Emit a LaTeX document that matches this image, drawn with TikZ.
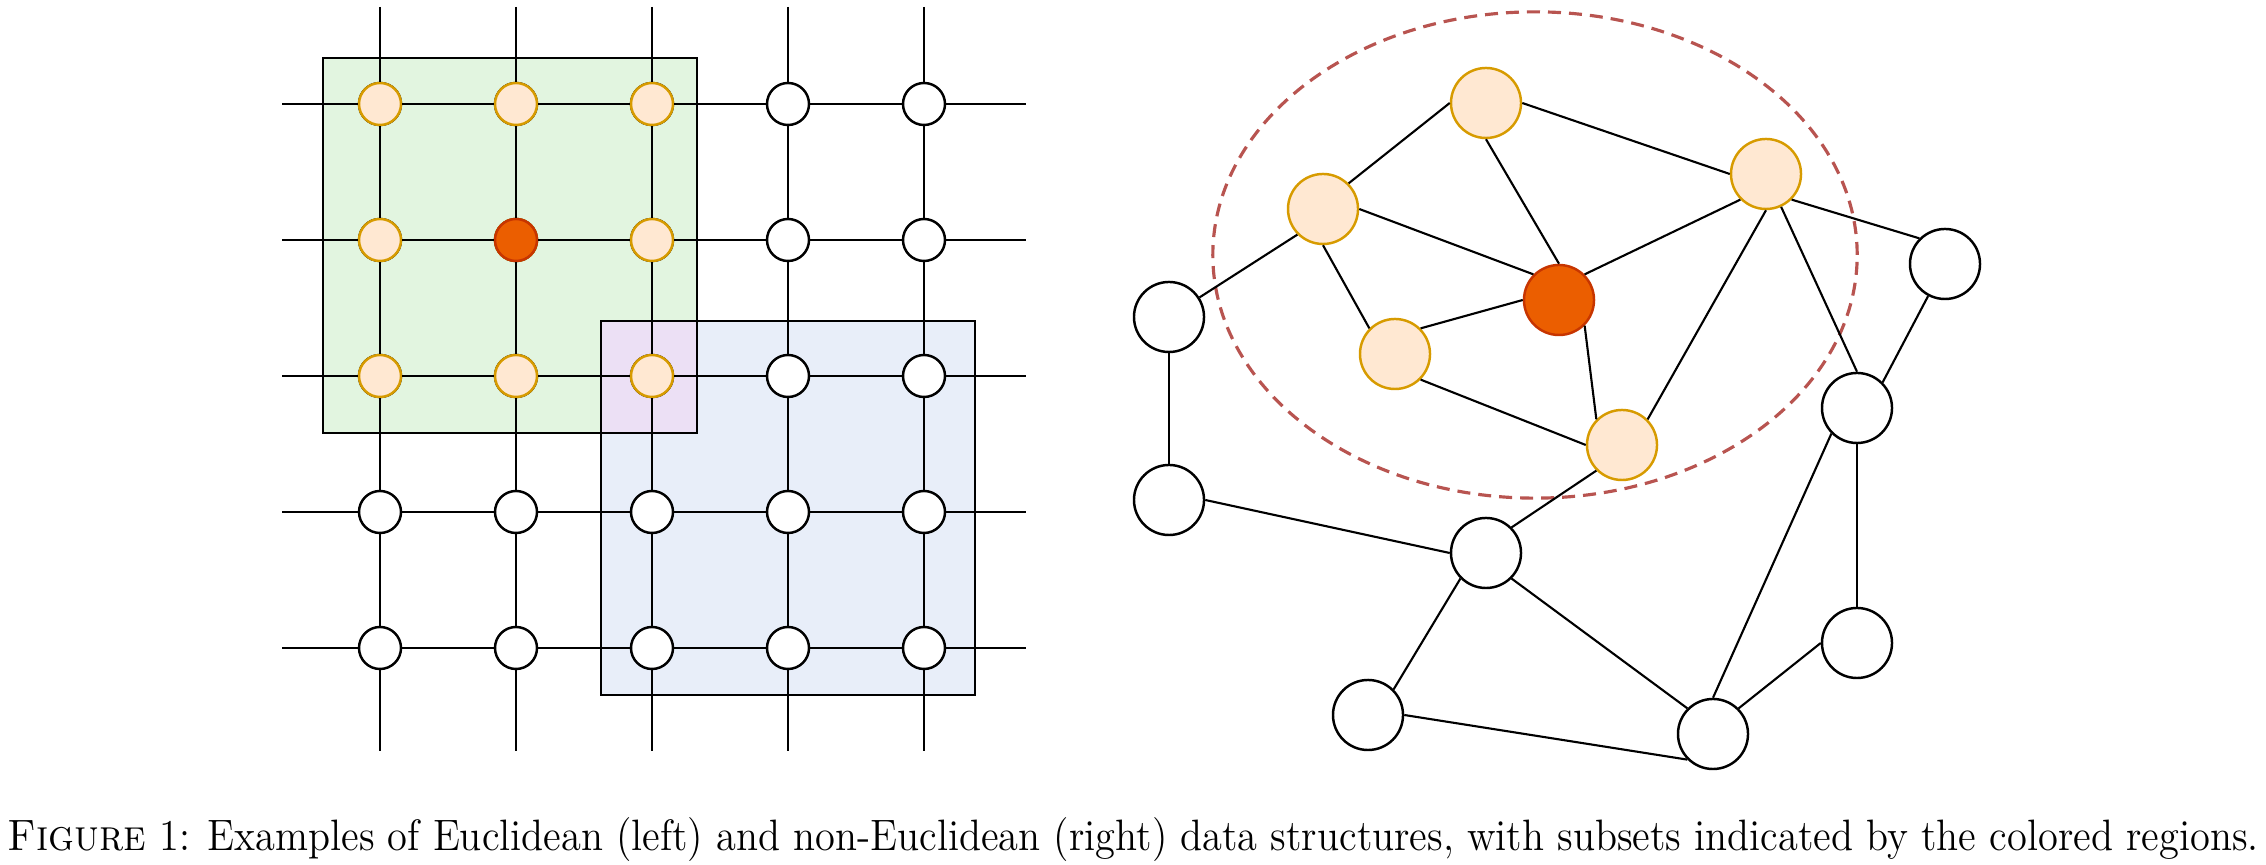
\documentclass[tikz,border=0pt]{standalone}
\usepackage{graphicx}
\definecolor{hoodfill}{HTML}{FFE8D2}
\definecolor{hooddraw}{HTML}{D79B00}
\definecolor{seedfill}{HTML}{EB5E00}
\definecolor{seeddraw}{HTML}{C73500}
\definecolor{greenbox}{HTML}{E2F5E0}
\definecolor{bluebox}{HTML}{E8EEF9}
\definecolor{bothbox}{HTML}{ECE0F5}
\definecolor{ringcol}{HTML}{B85450}
\tikzset{
  gridnode/.style={circle,draw,line width=0.7pt,fill=white,minimum size=0.42cm,inner sep=0pt},
  graphnode/.style={circle,draw,line width=0.7pt,fill=white,minimum size=0.70cm,inner sep=0pt},
  hood/.style={draw=hooddraw,fill=hoodfill},
  seed/.style={draw=seeddraw,fill=seedfill},
  link/.style={line width=0.6pt},
}
\begin{document}
\begin{tikzpicture}[x=0.01cm,y=-0.01cm]
    \useasboundingbox (0,0) rectangle (2266,865);

    % regions
    \fill [greenbox] (323,58) rectangle (697,433);
    \fill [bluebox] (601,321) rectangle (975,695);
    \fill [bothbox] (601,321) rectangle (697,433);
    \draw [line width=0.8pt] (323,58) rectangle (697,433);
    \draw [line width=0.8pt] (601,321) rectangle (975,695);

    % grid nodes
    \foreach \i in {1,...,5}
      \foreach \j in {1,...,5}
        \node [gridnode] (g\i\j) at ({380+(\i-1)*136},{104+(\j-1)*136}) {};
    \foreach \i in {1,2,3}
      \foreach \j in {1,2,3}
        \node [gridnode,hood] at (g\i\j) {};
    \node [gridnode,seed] at (g22) {};

    % grid lines
    \foreach \k in {1,...,5} {
      \coordinate (top\k) at ({380+(\k-1)*136},7);
      \coordinate (bot\k) at ({380+(\k-1)*136},751);
      \coordinate (lft\k) at (282,{104+(\k-1)*136});
      \coordinate (rgt\k) at (1026,{104+(\k-1)*136});
      \draw [link] (top\k) -- (g\k1);
      \draw [link] (g\k5) -- (bot\k);
      \draw [link] (lft\k) -- (g1\k);
      \draw [link] (g5\k) -- (rgt\k);
    }
    \foreach \a/\b in {1/2,2/3,3/4,4/5}
      \foreach \k in {1,...,5} {
        \draw [link] (g\k\a) -- (g\k\b);
        \draw [link] (g\a\k) -- (g\b\k);
      }

    % subset ring
    \draw [ringcol,line width=0.9pt,dash pattern=on 0.13cm off 0.08cm]
      (1535,255) ellipse [x radius=3.22cm,y radius=2.43cm];

    % graph nodes
    \node [graphnode,hood] (top) at (1486,103) {};
    \node [graphnode,hood] (upl) at (1323,209) {};
    \node [graphnode,hood] (upr) at (1766,174) {};
    \node [graphnode,seed] (mid) at (1559,300) {};
    \node [graphnode,hood] (lwl) at (1395,354) {};
    \node [graphnode,hood] (lwr) at (1622,445) {};
    \node [graphnode] (far) at (1169,317) {};
    \node [graphnode] (fbl) at (1169,500) {};
    \node [graphnode] (ftr) at (1945,264) {};
    \node [graphnode] (rmd) at (1857,408) {};
    \node [graphnode] (cen) at (1486,553) {};
    \node [graphnode] (rlw) at (1857,643) {};
    \node [graphnode] (btl) at (1368,715) {};
    \node [graphnode] (btr) at (1713,734) {};

    \draw [link] (top.west) -- (upl.45);
    \draw [link] (top.east) -- (upr.west);
    \draw [link] (top.south) -- (mid.north);
    \draw [link] (upl.east) -- (mid.135);
    \draw [link] (upl.south) -- (lwl.135);
    \draw [link] (upl.-135) -- (far);
    \draw [link] (upr.-135) -- (mid.45);
    \draw [link] (upr.south) -- (lwr.45);
    \draw [link] (upr) -- (rmd.north);
    \draw [link] (upr.-45) -- (ftr.135);
    \draw [link] (lwl.45) -- (mid.west);
    \draw [link] (lwl.-45) -- (lwr.west);
    \draw [link] (mid.-45) -- (lwr.135);
    \draw [link] (lwr.-135) -- (cen.45);
    \draw [link] (far.south) -- (fbl.north);
    \draw [link] (fbl.east) -- (cen.west);
    \draw [link] (cen.-135) -- (btl.45);
    \draw [link] (cen.-45) -- (btr.135);
    \draw [link] (btl.east) -- (btr.-135);
    \draw [link] (btr.north) -- (rmd.-135);
    \draw [link] (btr.45) -- (rlw.west);
    \draw [link] (rmd.south) -- (rlw.north);
    \draw [link] (rmd.45) -- (ftr);

    % caption
    \node [anchor=base,inner sep=0pt] (caption) at (1133,851)
      {\resizebox{22.5cm}{\height}{\fontsize{12.5}{15}\selectfont
       \textsc{Figure} 1: Examples of Euclidean (left) and non-Euclidean (right) data structures, with subsets indicated by the colored regions.}};
\end{tikzpicture}
\end{document}
